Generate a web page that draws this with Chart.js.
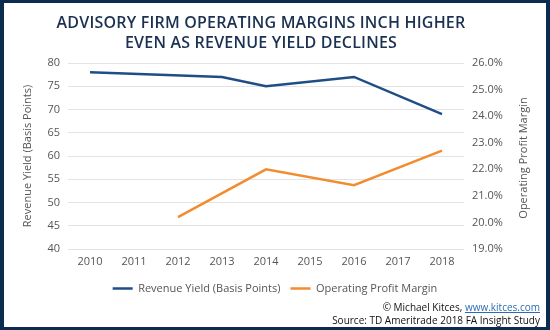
<!DOCTYPE html>
<html>
<head>
<meta charset="utf-8">
<script src="https://cdn.jsdelivr.net/npm/chart.js@4.4.1/dist/chart.umd.min.js"></script>
<style>
    html, body { margin:0; padding:0; }
    body { width:550px; height:330px; background:#0c2c4f; position:relative; overflow:hidden; font-family:"Open Sans", sans-serif; }
    #panel { position:absolute; left:4px; top:3px; width:542px; height:324px; background:#fff; }
    #chartBox { position:absolute; left:0; top:0; width:542px; height:324px; }
    #title { position:absolute; left:0; top:9px; width:514px; text-align:center; color:#1b3152; font-size:16px; font-weight:600; line-height:20px; letter-spacing:0.2px; }
    #credits { position:absolute; right:6px; top:298px; text-align:right; color:#111; font-size:10px; line-height:12.5px; }
    #credits a { color:#2a6db5; text-decoration:underline; }
</style>
</head>
<body>
<div id="panel">
    <div id="chartBox"><canvas id="marginChart"></canvas></div>
    <div id="title">ADVISORY FIRM OPERATING MARGINS INCH HIGHER<br>EVEN AS REVENUE YIELD DECLINES</div>
    <div id="credits">© Michael Kitces, <a>www.kitces.com</a><br>Source: TD Ameritrade 2018 FA Insight Study</div>
</div>
<script>
// --- chart data ---
const years = ['2010', '2011', '2012', '2013', '2014', '2015', '2016', '2017', '2018'];
// basis points, only the surveyed years
const revenueYield = [78, null, null, 77, 75, null, 77, null, 69];
// percent
const operatingMargin = [null, null, 20.2, null, 22.0, null, 21.4, null, 22.7];

const leftTicks = [40, 45, 50, 55, 60, 65, 70, 75, 80];
const rightTicks = [19, 20, 21, 22, 23, 24, 25, 26];

const gray = '#555';
const tickFont = { family: 'Open Sans', size: 11 };

// right axis title reads bottom-to-top in the original, chart.js turns it the other way
const rightTitle = {
    id: 'rightTitle',
    afterDraw(chart) {
        const s = chart.scales.y1;
        const ctx = chart.ctx;
        ctx.save();
        ctx.translate(s.right - 22, (chart.chartArea.top + chart.chartArea.bottom) / 2 + 2);
        ctx.rotate(-Math.PI / 2);
        ctx.fillStyle = gray;
        ctx.font = '11px "Open Sans"';
        ctx.textAlign = 'center';
        ctx.textBaseline = 'middle';
        ctx.fillText('Operating Profit Margin', 0, 0);
        ctx.restore();
    }
};

new Chart(document.getElementById('marginChart'), {
    type: 'line',
    data: {
        labels: years,
        datasets: [{
            label: 'Revenue Yield (Basis Points)',
            data: revenueYield,
            borderColor: '#1f4e87',
            backgroundColor: '#1f4e87',
            borderWidth: 2.5,
            pointRadius: 0,
            spanGaps: true,
            yAxisID: 'y'
        }, {
            label: 'Operating Profit Margin',
            data: operatingMargin,
            borderColor: '#f28c30',
            backgroundColor: '#f28c30',
            borderWidth: 2.5,
            pointRadius: 0,
            spanGaps: true,
            yAxisID: 'y1'
        }]
    },
    options: {
        responsive: true,
        maintainAspectRatio: false,
        animation: false,
        layout: { padding: { top: 60, left: 0, right: 0, bottom: 23 } },
        plugins: {
            legend: {
                position: 'bottom',
                labels: {
                    usePointStyle: true,
                    pointStyle: 'line',
                    pointStyleWidth: 20,
                    color: gray,
                    font: tickFont,
                    padding: 10
                }
            },
            tooltip: { enabled: false }
        },
        scales: {
            x: {
                offset: true,
                grid: { display: false, drawTicks: false },
                border: { display: false },
                ticks: { color: gray, font: tickFont, padding: 6, maxRotation: 0 },
                afterFit: s => { s.height = 24; }
            },
            y: {
                position: 'left',
                min: 40, max: 80,
                afterBuildTicks: s => { s.ticks = leftTicks.map(v => ({ value: v })); },
                grid: { color: '#e3e3e3', drawTicks: false },
                border: { display: false },
                ticks: { color: gray, font: tickFont, padding: 8 },
                title: { display: true, text: 'Revenue Yield (Basis Points)', color: gray, font: tickFont, padding: { top: 17, bottom: 0 } },
                afterFit: s => { s.width = 64; }
            },
            y1: {
                position: 'right',
                min: 19, max: 26,
                afterBuildTicks: s => { s.ticks = rightTicks.map(v => ({ value: v })); },
                grid: { display: false, drawTicks: false },
                border: { display: false },
                ticks: { color: gray, font: tickFont, padding: 8, callback: v => v.toFixed(1) + '%' },
                afterFit: s => { s.width = 82; }
            }
        }
    },
    plugins: [rightTitle]
});
</script>
</body>
</html>
